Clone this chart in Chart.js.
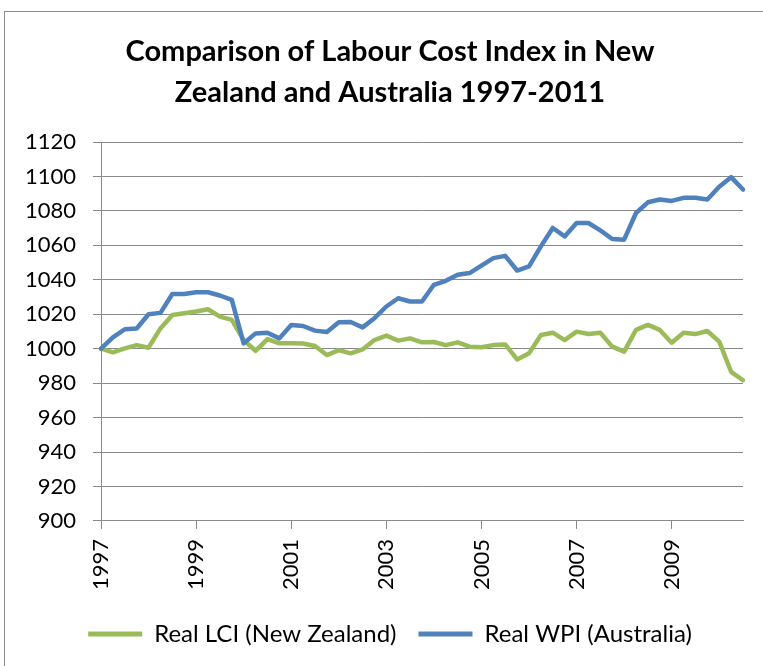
<!DOCTYPE html>
<html>
<head>
<meta charset="utf-8">
<script src="https://cdn.jsdelivr.net/npm/chart.js@4/dist/chart.umd.min.js"></script>
<style>
  html, body { margin: 0; padding: 0; background: #fff; overflow: hidden; }
  #wrap { position: relative; width: 763px; height: 666px; }
</style>
</head>
<body>
<div id="wrap"><canvas id="c" width="763" height="666"></canvas></div>
<script>
const categories = [
  '1997 Q1','1997 Q2','1997 Q3','1997 Q4','1998 Q1','1998 Q2','1998 Q3','1998 Q4',
  '1999 Q1','1999 Q2','1999 Q3','1999 Q4','2000 Q1','2000 Q2','2000 Q3','2000 Q4',
  '2001 Q1','2001 Q2','2001 Q3','2001 Q4','2002 Q1','2002 Q2','2002 Q3','2002 Q4',
  '2003 Q1','2003 Q2','2003 Q3','2003 Q4','2004 Q1','2004 Q2','2004 Q3','2004 Q4',
  '2005 Q1','2005 Q2','2005 Q3','2005 Q4','2006 Q1','2006 Q2','2006 Q3','2006 Q4',
  '2007 Q1','2007 Q2','2007 Q3','2007 Q4','2008 Q1','2008 Q2','2008 Q3','2008 Q4',
  '2009 Q1','2009 Q2','2009 Q3','2009 Q4','2010 Q1','2010 Q2','2010 Q3'
];
const tickLabels = ['1997','1999','2001','2003','2005','2007','2009'];
const realLciNZ = [
  1000.0, 997.9, 1000.2, 1002.1, 1000.6, 1011.8, 1019.6, 1020.6,
  1021.6, 1022.9, 1018.6, 1016.7, 1005.0, 998.8, 1005.6, 1003.1,
  1003.1, 1003.0, 1001.6, 996.3, 999.2, 997.3, 999.6, 1005.0,
  1007.6, 1004.7, 1006.0, 1003.7, 1003.9, 1002.1, 1003.7, 1001.2,
  1000.8, 1002.1, 1002.5, 993.8, 997.3, 1008.0, 1009.3, 1005.0,
  1009.9, 1008.5, 1009.3, 1001.2, 998.3, 1010.9, 1013.8, 1010.9,
  1003.5, 1009.3, 1008.5, 1010.3, 1004.1, 986.6, 981.7
];
const realWpiAU = [
  1000.0, 1006.6, 1011.3, 1011.7, 1020.0, 1020.8, 1031.8, 1031.8,
  1032.8, 1032.8, 1030.9, 1028.3, 1003.1, 1008.9, 1009.3, 1006.0,
  1013.8, 1013.2, 1010.5, 1009.7, 1015.3, 1015.5, 1012.4, 1017.7,
  1024.5, 1029.3, 1027.4, 1027.4, 1037.1, 1039.4, 1042.9, 1043.9,
  1048.2, 1052.6, 1053.9, 1045.4, 1047.8, 1059.4, 1070.1, 1065.2,
  1073.0, 1073.0, 1068.7, 1063.7, 1063.3, 1078.8, 1085.0, 1086.6,
  1085.8, 1087.6, 1087.6, 1086.6, 1094.0, 1099.6, 1092.4
];
const seriesNames = ['Real LCI (New Zealand)', 'Real WPI (Australia)'];
const titleLines = ['Comparison of Labour Cost Index in New', 'Zealand and Australia 1997-2011'];

const GREEN = '#9BBB59', BLUE = '#4F81BD', GRID = '#898989';
const FONT = 'Lato, "Open Sans", sans-serif';

const borderPlugin = {
  id: 'outerBorder',
  afterLayout(chart) {
    // widen the y-axis label clip area so right-aligned labels are not cut
    if (chart.scales.y) chart.scales.y.left = 0;
  },
  beforeDraw(chart) {
    const ctx = chart.ctx;
    ctx.save();
    ctx.fillStyle = '#fff';
    ctx.fillRect(0, 0, chart.width, chart.height);
    ctx.strokeStyle = '#8c8c8c';
    ctx.lineWidth = 1;
    ctx.strokeRect(4.5, 11.5, 900, 900);
    ctx.restore();
  }
};

function yearTick(i) {
  const y = categories[i].slice(0, 4);
  return (categories[i].endsWith('Q1') && tickLabels.includes(y)) ? y : '';
}
function isMajor(i) { return yearTick(i) !== ''; }

new Chart(document.getElementById('c'), {
  type: 'line',
  data: {
    labels: categories,
    datasets: [
      { label: seriesNames[0], data: realLciNZ, borderColor: GREEN, backgroundColor: GREEN, order: 1 },
      { label: seriesNames[1], data: realWpiAU, borderColor: BLUE, backgroundColor: BLUE, order: 0 }
    ]
  },
  options: {
    responsive: false,
    animation: false,
    events: [],
    elements: {
      line: { borderWidth: 4.5, tension: 0, borderJoinStyle: 'round', borderCapStyle: 'round' },
      point: { radius: 0 }
    },
    layout: { padding: { left: 37, right: 20, top: 12, bottom: 10 } },
    plugins: {
      title: {
        display: true,
        text: titleLines,
        color: '#000',
        font: { family: FONT, size: 29, weight: 'bold', lineHeight: 1.414 },
        padding: { top: 19.5, bottom: 28.5 }
      },
      legend: {
        display: true,
        position: 'bottom',
        labels: {
          color: '#000',
          font: { family: FONT, size: 24 },
          boxWidth: 54,
          boxHeight: 5,
          padding: 22,
          generateLabels(chart) {
            return chart.data.datasets.map((d, i) => ({
              text: d.label, fillStyle: d.borderColor, strokeStyle: d.borderColor,
              lineWidth: 0, datasetIndex: i, hidden: false
            }));
          }
        }
      },
      tooltip: { enabled: false }
    },
    scales: {
      x: {
        type: 'category',
        offset: false,
        grid: {
          display: true, drawOnChartArea: false, drawTicks: true, tickLength: 8,
          color: (c) => isMajor(c.index) ? GRID : 'rgba(0,0,0,0)', lineWidth: 1
        },
        border: { display: true, color: GRID, width: 1 },
        ticks: {
          autoSkip: false, minRotation: 90, maxRotation: 90, padding: 10,
          color: '#000', font: { family: FONT, size: 22 },
          callback: (v, i) => yearTick(i)
        },
        afterFit(scale) { scale.paddingRight = 0; scale.paddingLeft = 0; }
      },
      y: {
        min: 900, max: 1120,
        ticks: {
          stepSize: 20, color: '#000', font: { family: FONT, size: 22 }, padding: 17,
          callback: (v) => String(v)
        },
        grid: { color: GRID, lineWidth: 1, tickLength: 8 },
        border: { display: true, color: GRID, width: 1 },
        afterFit(scale) { scale.width = 64; }
      }
    }
  },
  plugins: [borderPlugin]
});
</script>
</body>
</html>
